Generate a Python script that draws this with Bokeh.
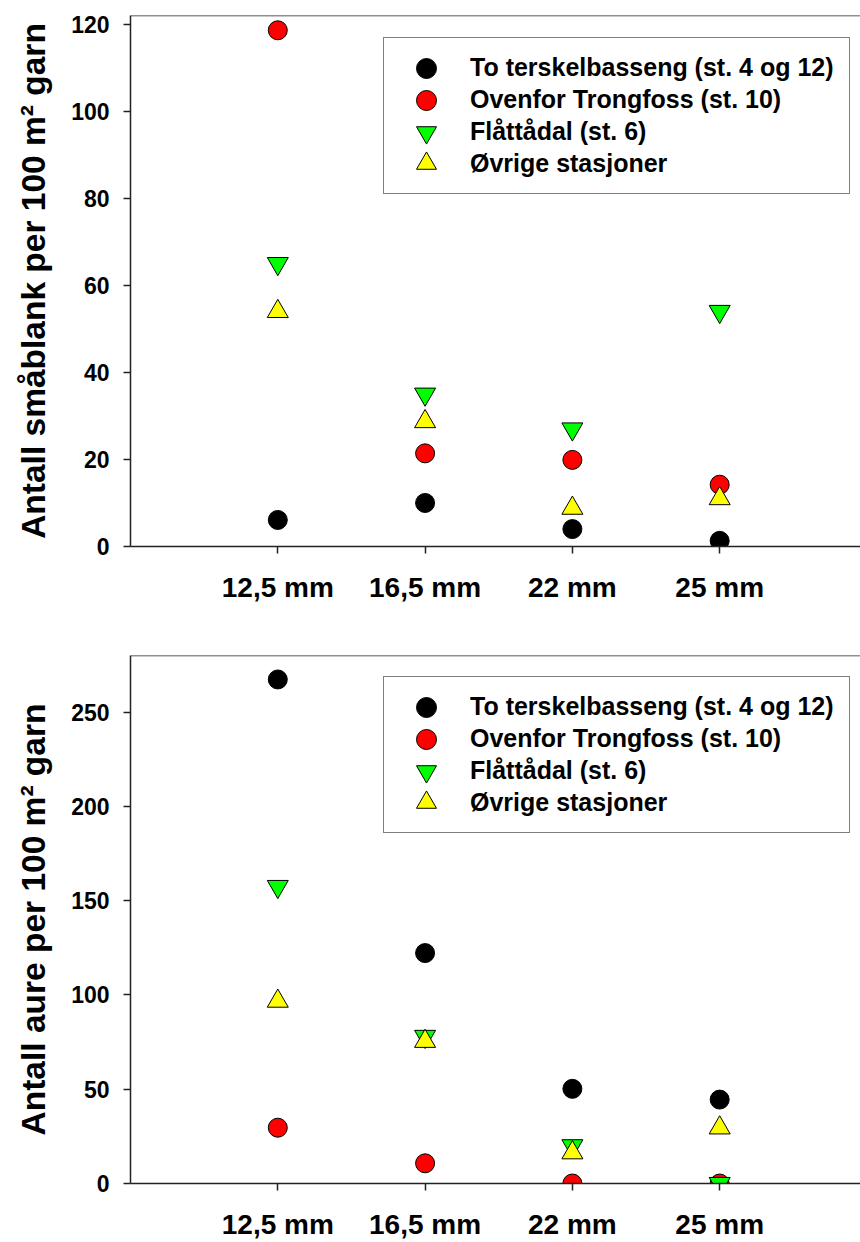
from bokeh.plotting import figure
from bokeh.layouts import column
from bokeh.models import Range1d, FixedTicker, Span, Legend, LegendItem
from bokeh.embed import file_html
from bokeh.resources import INLINE

# ---- data ----
categories = ["12,5 mm", "16,5 mm", "22 mm", "25 mm"]
cat_pos = [1, 2, 3, 4]
series_names = ["To terskelbasseng (st. 4 og 12)", "Ovenfor Trongfoss (st. 10)",
                "Flåttådal (st. 6)", "Øvrige stasjoner"]

smablank_terskel = [6.1, 10.0, 4.0, 1.3]
smablank_trongfoss = [118.6, 21.4, 19.9, 14.2]
smablank_flattadal = [65.0, 35.0, 27.0, 54.0]
smablank_ovrige = [54.0, 28.7, 8.8, 11.0]

aure_terskel = [267.3, 122.2, 50.2, 44.5]
aure_trongfoss = [29.6, 10.7, 0.0, 0.0]
aure_flattadal = [157.5, 78.0, 20.0, 0.0]
aure_ovrige = [96.7, 75.4, 16.3, 29.5]

ylabel_top = "Antall småblank per 100 m² garn"
ylabel_bottom = "Antall aure per 100 m² garn"
yticks_top = [0, 20, 40, 60, 80, 100, 120]
yticks_bottom = [0, 50, 100, 150, 200, 250]

FONT = "Liberation Sans"
AX = "#222222"

# legend geometry (screen px, relative to the plot frame)
LEG_LEFT = 253       # box left from frame left
LEG_TOP = 23         # box top below frame top
LEG_H = 156          # box height
ROW_CENTRES = [53, 85, 117, 148]   # marker centres below frame top
MARK_X = 296         # marker centre from frame left


def make_plot(height, top_border, bottom_border, ymax, yticks, ylabel, vals):
    frame_h = height - top_border - bottom_border
    p = figure(width=860, height=height, output_backend="svg", toolbar_location=None,
               x_range=Range1d(0, 4.956), y_range=Range1d(0, ymax),
               min_border_left=130, min_border_right=0,
               min_border_top=top_border, min_border_bottom=bottom_border)
    p.outline_line_color = None
    p.xgrid.grid_line_color = None
    p.ygrid.grid_line_color = None
    p.background_fill_color = "white"
    p.border_fill_color = "white"

    styles = [
        dict(marker="circle", fill_color="black", size=19),
        dict(marker="circle", fill_color="#FF0000", size=19),
        dict(marker="inverted_triangle", fill_color="#00FF00", size=21),
        dict(marker="triangle", fill_color="#FFFF00", size=21),
    ]
    renderers = []
    for v, st in zip(vals, styles):
        r = p.scatter(cat_pos, v, marker=st["marker"], size=st["size"],
                      fill_color=st["fill_color"], line_color="black", line_width=1)
        renderers.append(r)

    # main legend: box and texts
    legend = Legend(items=[LegendItem(label=n, renderers=[r]) for n, r in zip(series_names, renderers)],
                    location=(LEG_LEFT, frame_h - LEG_TOP - LEG_H), margin=0, padding=15,
                    glyph_width=56, glyph_height=28, label_height=28, spacing=3,
                    label_standoff=15, label_width=362,
                    label_text_font=FONT, label_text_font_style="bold",
                    label_text_font_size="25px", label_text_color="black",
                    border_line_color="black", border_line_width=1,
                    background_fill_color="white", background_fill_alpha=1)
    p.add_layout(legend, "center")

    # overlay legends drawing full-size markers (legend glyph size = 0.4 * box)
    for r, yc in zip(renderers, ROW_CENTRES):
        ov = Legend(items=[LegendItem(label=" ", renderers=[r])],
                    location=(MARK_X - 25, frame_h - yc - 25), margin=0, padding=0,
                    glyph_width=50, glyph_height=50, label_height=50, spacing=0,
                    label_standoff=0, label_width=0, label_text_font_size="1px",
                    border_line_color=None, background_fill_alpha=0)
        p.add_layout(ov, "center")

    # x axis
    xa = p.xaxis[0]
    xa.ticker = FixedTicker(ticks=cat_pos)
    xa.major_label_overrides = {c: l for c, l in zip(cat_pos, categories)}
    xa.minor_tick_line_color = None
    xa.major_tick_in = 0
    xa.major_tick_out = 7
    xa.axis_line_color = AX
    xa.axis_line_width = 1.5
    xa.major_tick_line_color = AX
    xa.major_tick_line_width = 1.5
    xa.major_label_text_font = FONT
    xa.major_label_text_font_style = "bold"
    xa.major_label_text_font_size = "28px"
    xa.major_label_text_color = "black"
    xa.major_label_standoff = 18

    # y axis
    ya = p.yaxis[0]
    ya.ticker = FixedTicker(ticks=yticks)
    ya.minor_tick_line_color = None
    ya.major_tick_in = 0
    ya.major_tick_out = 7
    ya.axis_line_color = AX
    ya.axis_line_width = 1.5
    ya.major_tick_line_color = AX
    ya.major_tick_line_width = 1.5
    ya.major_label_text_font = FONT
    ya.major_label_text_font_style = "bold"
    ya.major_label_text_font_size = "23px"
    ya.major_label_text_color = "black"
    ya.major_label_standoff = 14
    ya.axis_label = ylabel
    ya.axis_label_text_font = FONT
    ya.axis_label_text_font_style = "bold"
    ya.axis_label_text_font_size = "33.5px"
    ya.axis_label_text_color = "black"
    ya.axis_label_standoff = 16

    p.add_layout(Span(location=ymax, dimension="width", line_color=AX, line_width=1.5))
    return p


p1 = make_plot(620, 15, 74, 122, yticks_top, ylabel_top,
               [smablank_terskel, smablank_trongfoss, smablank_flattadal, smablank_ovrige])
p2 = make_plot(622, 35, 58, 280, yticks_bottom, ylabel_bottom,
               [aure_terskel, aure_trongfoss, aure_flattadal, aure_ovrige])

layout = column(p1, p2, spacing=0)
open("out.html", "w").write(file_html(layout, INLINE))
